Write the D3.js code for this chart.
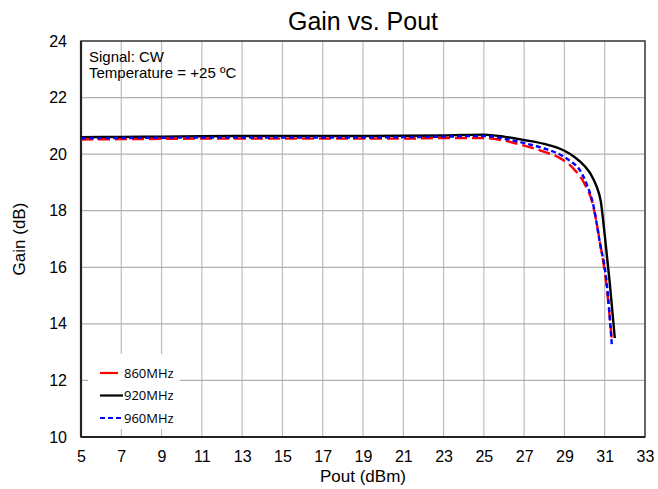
<!DOCTYPE html>
<html>
<head>
<meta charset="utf-8">
<script src="https://cdn.jsdelivr.net/npm/d3@7"></script>
<style>
  body { margin: 0; background: #fff; }
  text { font-family: "Liberation Sans", Arial, sans-serif; fill: #000; }
</style>
</head>
<body>
<div id="chart"></div>
<script>
// data
var pout860 = [5, 7, 9, 11, 13, 15, 17, 19, 21, 23, 25, 26, 27, 28, 28.8, 29.5, 30, 30.4, 30.76, 31.1, 31.35];
var gain860 = [20.52, 20.53, 20.54, 20.55, 20.55, 20.55, 20.55, 20.55, 20.55, 20.57, 20.57, 20.48, 20.30, 20.08, 19.85, 19.45, 18.95, 18.25, 16.9, 15.3, 13.45];

var pout920 = [5, 7, 9, 11, 13, 15, 17, 19, 21, 23, 24, 25, 26, 27, 28, 29, 29.5, 30, 30.3, 30.6, 30.8, 31.0, 31.25, 31.5];
var gain920 = [20.60, 20.61, 20.62, 20.63, 20.64, 20.64, 20.64, 20.64, 20.65, 20.66, 20.68, 20.69, 20.62, 20.50, 20.36, 20.12, 19.90, 19.58, 19.30, 18.85, 18.35, 17.15, 15.45, 13.5];

var pout960 = [5, 7, 9, 11, 13, 15, 17, 19, 21, 23, 25, 26, 27, 28, 28.8, 29.3, 29.76, 30.1, 30.4, 30.76, 31.1, 31.35];
var gain960 = [20.56, 20.57, 20.58, 20.59, 20.59, 20.59, 20.59, 20.59, 20.60, 20.62, 20.64, 20.55, 20.39, 20.20, 19.98, 19.75, 19.44, 18.95, 18.3, 16.87, 15.45, 13.28];

var seriesNames = ["860MHz", "920MHz", "960MHz"];
var xTicks = [5, 7, 9, 11, 13, 15, 17, 19, 21, 23, 25, 27, 29, 31, 33];
var yTicks = [10, 12, 14, 16, 18, 20, 22, 24];

var W = 658, H = 489;
var margin = {top: 41, right: 13, bottom: 52, left: 81};
var width = W - margin.left - margin.right,
    height = H - margin.top - margin.bottom;

var svg = d3.select("#chart").append("svg")
    .attr("width", W)
    .attr("height", H);

var g = svg.append("g")
    .attr("transform", "translate(" + margin.left + "," + margin.top + ")");

var x = d3.scaleLinear().domain([5, 33]).range([0, width]);
var y = d3.scaleLinear().domain([10, 24]).range([height, 0]);

// grid
g.selectAll(".vgrid").data(xTicks).enter().append("line")
    .attr("x1", d => x(d)).attr("x2", d => x(d))
    .attr("y1", 0).attr("y2", height)
    .attr("stroke", "#bdbdbd").attr("stroke-width", 1.2);
g.selectAll(".hgrid").data(yTicks).enter().append("line")
    .attr("x1", 0).attr("x2", width)
    .attr("y1", d => y(d)).attr("y2", d => y(d))
    .attr("stroke", "#b0b0b0").attr("stroke-width", 1.2);

// axes (labels only, no tick marks)
var xAxis = g.append("g")
    .attr("transform", "translate(0," + height + ")")
    .call(d3.axisBottom(x).tickValues(xTicks).tickSize(0).tickPadding(14));
var yAxis = g.append("g")
    .call(d3.axisLeft(y).tickValues(yTicks).tickSize(0).tickPadding(14));
[xAxis, yAxis].forEach(function(a) {
  a.select(".domain").remove();
  a.selectAll("text").attr("font-size", 16).attr("font-family", "Liberation Sans, Arial, sans-serif");
});

// frame
g.append("rect")
    .attr("x", 0).attr("y", 0).attr("width", width).attr("height", height)
    .attr("fill", "none").attr("stroke", "#404040").attr("stroke-width", 1.5);
g.append("line").attr("x1", 0).attr("x2", 0).attr("y1", 0).attr("y2", height)
    .attr("stroke", "#222").attr("stroke-width", 2.2);
g.append("line").attr("x1", 0).attr("x2", width).attr("y1", height).attr("y2", height)
    .attr("stroke", "#222").attr("stroke-width", 2.2);

var line = d3.line()
    .x(d => x(d[0]))
    .y(d => y(d[1]))
    .curve(d3.curveMonotoneX);

var series = [
  {name: seriesNames[1], xs: pout920, ys: gain920, color: "#000000", dash: null},
  {name: seriesNames[0], xs: pout860, ys: gain860, color: "#ff0000", dash: "12,5"},
  {name: seriesNames[2], xs: pout960, ys: gain960, color: "#0000ff", dash: "5,3"}
];

series.forEach(function(s) {
  g.append("path")
      .datum(s.xs.map((v, i) => [v, s.ys[i]]))
      .attr("d", line)
      .attr("fill", "none")
      .attr("stroke", s.color)
      .attr("stroke-width", 2.4)
      .attr("stroke-dasharray", s.dash);
});

// annotation
g.append("text").attr("x", 8).attr("y", 21).attr("font-size", 15).text("Signal: CW");
g.append("text").attr("x", 8).attr("y", 37).attr("font-size", 15).text("Temperature = +25 ºC");

// legend
var leg = g.append("g").attr("transform", "translate(7,313)");
leg.append("rect").attr("x", 0).attr("y", 0).attr("width", 92).attr("height", 75).attr("fill", "#fff");
var legItems = [
  {name: seriesNames[0], color: "#ff0000", dash: null, len: 30},
  {name: seriesNames[1], color: "#000000", dash: null, len: 35},
  {name: seriesNames[2], color: "#0000ff", dash: "5,3", len: 35}
];
legItems.forEach(function(d, i) {
  var yy = 19 + i * 22.5;
  leg.append("line").attr("x1", 12).attr("x2", d.len).attr("y1", yy).attr("y2", yy)
      .attr("stroke", d.color).attr("stroke-width", 2.2).attr("stroke-dasharray", d.dash);
  leg.append("text").attr("x", 36).attr("y", yy + 4.5)
      .attr("font-size", 13).style("font-family", "Open Sans, sans-serif").text(d.name);
});

// titles
svg.append("text").attr("x", margin.left + width / 2).attr("y", 30)
    .attr("text-anchor", "middle").attr("font-size", 25).text("Gain vs. Pout");
svg.append("text").attr("x", margin.left + width / 2).attr("y", 482)
    .attr("text-anchor", "middle").attr("font-size", 17).text("Pout (dBm)");
svg.append("text").attr("transform", "translate(25," + (margin.top + height / 2) + ") rotate(-90)")
    .attr("text-anchor", "middle").attr("font-size", 17).text("Gain (dB)");
</script>
</body>
</html>
